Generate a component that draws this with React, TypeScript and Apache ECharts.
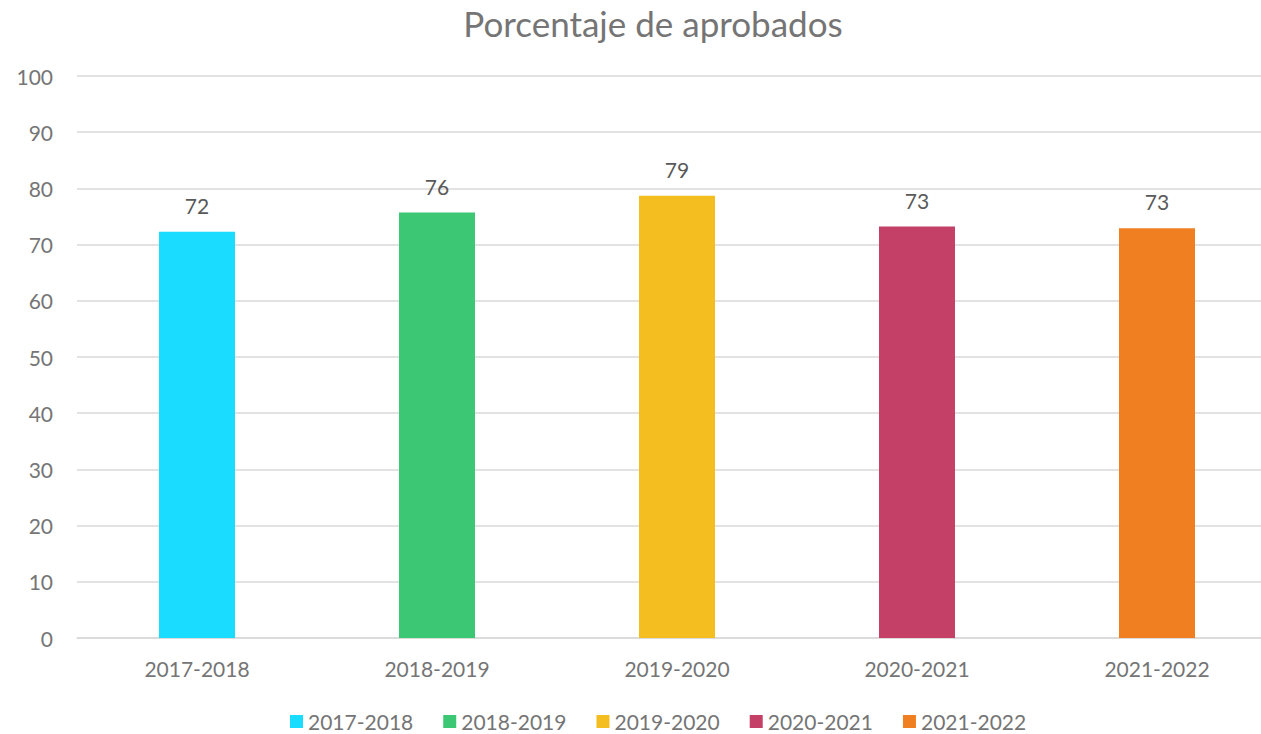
import React, { useEffect, useRef } from "react";
import * as echarts from "echarts";

const categories = ["2017-2018", "2018-2019", "2019-2020", "2020-2021", "2021-2022"];
const values = [72.3, 75.7, 78.7, 73.2, 72.9];
const colors = ["#1ADCFF", "#3CC774", "#F4BE21", "#C54066", "#F07F22"];
const yTicks = { min: 0, max: 100, interval: 10 };

export default function App() {
  const ref = useRef<HTMLDivElement>(null);
  useEffect(() => {
    if (!ref.current) return;
    const chart = echarts.init(ref.current, null, { renderer: "svg" });
    const font = "Lato, 'Open Sans', sans-serif";
    const series = categories.map((name, i) => ({
      name,
      type: "bar",
      stack: "all",
      barWidth: 76,
      itemStyle: { color: colors[i] },
      label: {
        show: true,
        position: "top",
        distance: 16,
        color: "#595959",
        fontSize: 21,
        fontFamily: font,
        formatter: (p: any) => String(Math.round(p.value)),
      },
      data: categories.map((_, j) => (j === i ? values[i] : null)),
    }));
    chart.setOption({
      animation: false,
      title: {
        text: "Porcentaje de aprobados",
        left: 648,
        textAlign: "center",
        top: 0,
        textStyle: { color: "#757575", fontSize: 35, fontWeight: "normal", fontFamily: font },
      },
      legend: {
        bottom: -3,
        left: 285,
        icon: "rect",
        itemWidth: 13,
        itemHeight: 13,
        itemGap: 30,
        textStyle: { color: "#757575", fontSize: 21, fontFamily: font },
        data: categories,
      },
      grid: { left: 77, right: 0, top: 76, bottom: 96, containLabel: false },
      xAxis: {
        type: "category",
        data: categories,
        axisTick: { show: false },
        axisLine: { lineStyle: { color: "#D9D9D9", width: 1.5 } },
        axisLabel: { color: "#757575", fontSize: 21, fontFamily: font, margin: 20 },
      },
      yAxis: {
        type: "value",
        min: yTicks.min,
        max: yTicks.max,
        interval: yTicks.interval,
        axisLine: { show: false },
        axisTick: { show: false },
        splitLine: { lineStyle: { color: "#D9D9D9", width: 1.5 } },
        axisLabel: { color: "#757575", fontSize: 21, fontFamily: font, margin: 24 },
      },
      series,
    });
    return () => chart.dispose();
  }, []);
  return (
    <div
      style={{ position: "fixed", left: 0, top: 0, width: 1261, height: 734, overflow: "hidden", background: "#fff" }}
    >
      <div ref={ref} style={{ width: 1277, height: 734 }} />
    </div>
  );
}
